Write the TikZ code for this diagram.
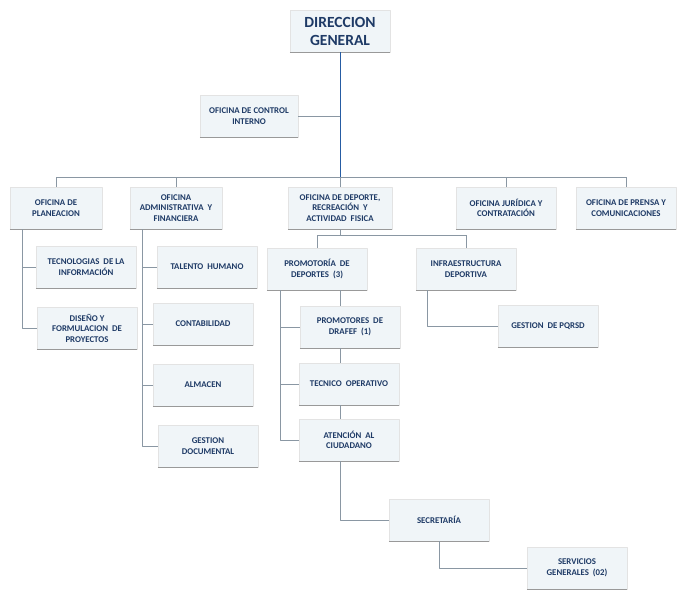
\documentclass[tikz,border=0pt]{standalone}
\usepackage{fontspec}
\setmainfont{Carlito}
\usetikzlibrary{positioning}
\definecolor{textnavy}{HTML}{1E3A66}
\definecolor{boxfill}{HTML}{F0F5F8}
\definecolor{linegray}{HTML}{8A97A3}
\tikzset{
  unit/.style={draw=gray!22, fill=boxfill, text=textnavy, align=center, inner sep=2pt,
    minimum width=100, minimum height=42, font=\fontsize{8.8}{10.5}\selectfont\bfseries},
  link/.style={draw=linegray, line width=0.5pt},
  shade/.style={draw=black!40, line width=1.3pt}
}
\begin{document}
\begin{tikzpicture}[x=1pt,y=-1pt, line join=round]
			\useasboundingbox (0,0) rectangle (677,592);
			\def \busy{177};
			\def \suby{235};
			% cabeza
			\node[unit, font=\fontsize{15.5}{18}\selectfont\bfseries] (dg) at (340,31) {DIRECCION\\GENERAL};
			\node[unit, minimum width=98] (ci) at (249,116) {OFICINA DE CONTROL\\INTERNO};
			% oficinas
			\foreach \n/\x/\w/\t in {pla/56/92/{OFICINA DE\\PLANEACION},adm/176/92/{OFICINA\\ADMINISTRATIVA\ \ Y\\FINANCIERA},dep/340/104/{OFICINA DE DEPORTE,\\RECREACIÓN\ \ Y\\ACTIVIDAD\ \ FISICA},jur/506/100/{OFICINA JURÍDICA Y\\CONTRATACIÓN},pre/626/100/{OFICINA DE PRENSA Y\\COMUNICACIONES}}{\node[unit, minimum width=\w] (\n) at (\x,208) {\t};}
			% dependencias
			\foreach \n/\x/\y/\t in {tec/86/267/{TECNOLOGIAS\ \ DE LA\\INFORMACIÓN},dis/87/328/{DISEÑO Y\\FORMULACION\ \ DE\\PROYECTOS},tal/207/267/{TALENTO\ \ HUMANO},con/203/324/{CONTABILIDAD},alm/203/385/{ALMACEN},ges/208/446/{GESTION\\DOCUMENTAL},pro/317/269/{PROMOTORÍA\ \ DE\\DEPORTES\ \ (3)},inf/466/269/{INFRAESTRUCTURA\\DEPORTIVA},drf/350/327/{PROMOTORES\ \ DE\\DRAFEF\ \ (1)},tco/349/384/{TECNICO\ \ OPERATIVO},ate/349/440/{ATENCIÓN\ \ AL\\CIUDADANO},pqr/548/326/{GESTION\ \ DE PQRSD},sec/439/520/{SECRETARÍA},ser/577/568/{SERVICIOS\\GENERALES\ \ (02)}}{\node[unit] (\n) at (\x,\y) {\t};}
			\foreach \n in {dg,ci,pla,adm,dep,jur,pre,tec,dis,tal,con,alm,ges,pro,inf,drf,tco,ate,pqr,sec,ser}{\draw[shade] (\n.south west) -- (\n.south east);}
			% lineas
			\coordinate (bus) at (341,\busy);
			\coordinate (sub) at (341,\suby);
			\draw[link, draw=teal!60!blue!70!gray] (dg.south) -- (dg.south |- bus);
			\draw[link] (ci.east) -- (ci.east -| dg.south);
			\draw[link] (pla.north |- bus) -- (pre.north |- bus);
			\foreach \n in {pla,adm,dep,jur,pre}{\draw[link] (\n.north) -- (\n.north |- bus);}
			\coordinate (plaL) at (22,229);
			\coordinate (admL) at (142,229);
			\draw[link] (plaL) |- (tec.west) (plaL) |- (dis.west);
			\foreach \n in {tal,con,alm,ges}{\draw[link] (admL) |- (\n.west);}
			\draw[link] (dep.south) -- (dep.south |- sub) (pro.north |- sub) -- (inf.north |- sub);
			\draw[link] (pro.north) -- (pro.north |- sub) (inf.north) -- (inf.north |- sub);
			\coordinate (proL) at (280,290);
			\foreach \n in {drf,tco,ate}{\draw[link] (proL) |- (\n.west);}
			\draw[link] (dep.south |- pro.south) -- (dep.south |- drf.north);
			\draw[link] (dep.south |- drf.south) -- (dep.south |- tco.north);
			\draw[link] (dep.south |- tco.south) -- (dep.south |- ate.north);
			\draw[link] (dep.south |- ate.south) |- (sec.west);
			\draw[link] (sec.south) |- (ser.west);
			\coordinate (infL) at (427,290);
			\draw[link] (infL) |- (pqr.west);
		\end{tikzpicture}
\end{document}
